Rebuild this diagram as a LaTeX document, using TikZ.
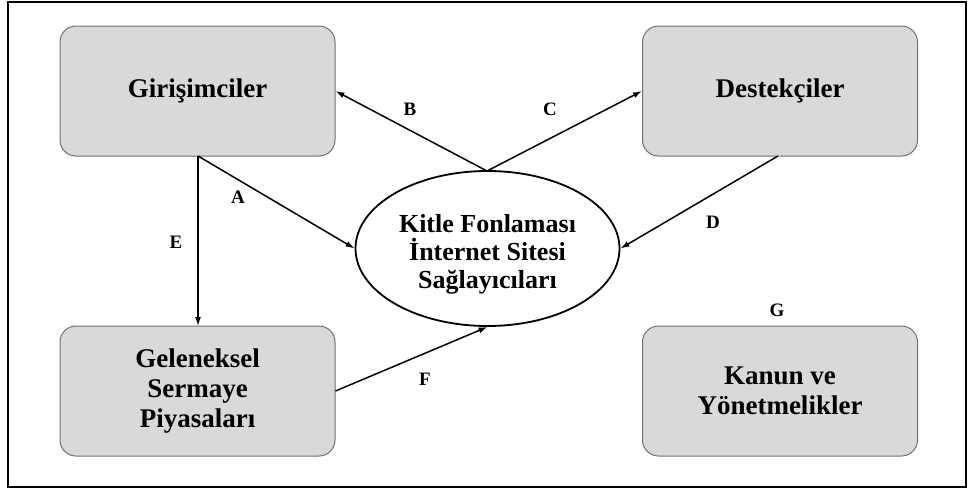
\documentclass[tikz,border=0pt]{standalone}
\usepackage{fontspec}
\setmainfont{Liberation Serif}
\usetikzlibrary{shapes.geometric,arrows.meta}
\definecolor{boxgray}{HTML}{D9D9D9}
\definecolor{boxedge}{HTML}{707070}
\begin{document}
\begin{tikzpicture}[x=1pt,y=-1pt,
  actor/.style={draw=boxedge,line width=1pt,fill=boxgray,rounded corners=16pt,
    minimum width=275pt,minimum height=130pt,align=center,inner sep=0pt,
    font=\fontsize{27}{30}\selectfont\bfseries},
  hub/.style={draw=black,line width=1.8pt,ellipse,minimum width=264pt,minimum height=155pt,
    align=center,inner sep=0pt,font=\fontsize{26}{28}\selectfont\bfseries},
  flow/.style={draw=black,line width=1.5pt,-{Latex[length=9pt,width=6pt]}},
  lbl/.style={font=\fontsize{19}{20}\selectfont\bfseries,inner sep=0pt}]
\useasboundingbox (0,0) rectangle (968,490);
\draw[line width=2pt] (8,2) rectangle (966,487);
\node[actor] (gir) at (197.5,91) {Girişimciler};
\node[actor] (des) at (780,91) {Destekçiler};
\node[actor] (gel) at (197.5,391) {Geleneksel\\Sermaye\\Piyasaları};
\node[actor] (kan) at (780,391) {Kanun ve\\Yönetmelikler};
\node[hub] (hub) at (487.5,248.5) {\rule{0pt}{30pt}Kitle Fonlaması\\İnternet Sitesi\\Sağlayıcıları};
\coordinate (gbot) at (198,156);
\coordinate (ebot) at (198,326);
\coordinate (htop) at (487,171);
\coordinate (dbot) at (778,156);
\draw[flow] (gbot) -- (ebot);
\draw[flow] (gbot) -- (hub.west);
\draw[flow] (htop) -- (gir.east);
\draw[flow] (htop) -- (des.west);
\draw[flow] (dbot) -- (hub.east);
\draw[flow] (gel.east) -- (hub.south);
\node[lbl] (la) at (238,197) {A};
\node[lbl] (lb) at (410,109) {B};
\node[lbl] (lc) at (550,109) {C};
\node[lbl] (ld) at (713,222) {D};
\node[lbl] (le) at (176,242) {E};
\node[lbl] (lf) at (425,379) {F};
\node[lbl] (lg) at (777,310) {G};
\end{tikzpicture}
\end{document}
